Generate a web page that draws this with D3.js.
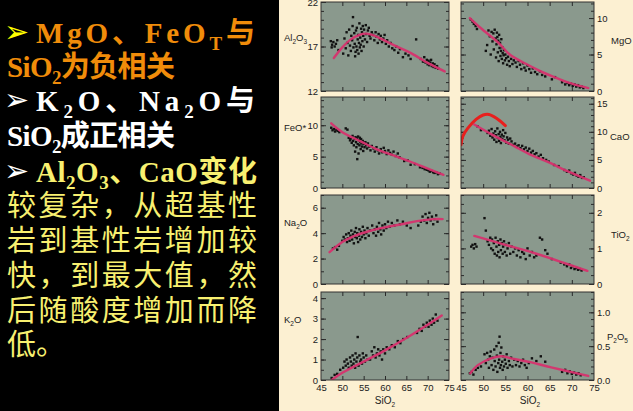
<!DOCTYPE html>
<html><head><meta charset="utf-8">
<script src="https://cdn.jsdelivr.net/npm/d3@7"></script>
<style>html,body{margin:0;padding:0;background:#000;overflow:hidden}</style>
</head><body>
<svg id="c" width="633" height="411"></svg>
<script>
// ---------- text on the left ----------
const slideLines = [
  {arrow: "#ffff00", color: "#f08c0a", text: "MgO、FeO_T与", bold: true},
  {arrow: null, color: "#f08c0a", text: "SiO_2为负相关", bold: true},
  {arrow: "#ffffff", color: "#ffffff", text: "K_2O、Na_2O与", bold: true},
  {arrow: null, color: "#ffffff", text: "SiO_2成正相关", bold: true},
  {arrow: "#ffffff", color: "#f8f070", text: "Al_2O_3、CaO变化", bold: true},
  {arrow: null, color: "#f8f070", text: "较复杂，从超基性", bold: false},
  {arrow: null, color: "#f8f070", text: "岩到基性岩增加较", bold: false},
  {arrow: null, color: "#f8f070", text: "快，到最大值，然", bold: false},
  {arrow: null, color: "#f8f070", text: "后随酸度增加而降", bold: false},
  {arrow: null, color: "#f8f070", text: "低。", bold: false}
];

// ---------- Harker diagram data: [SiO2, oxide] ----------
const sio2Domain = [45, 75];
const sio2Ticks = [45, 50, 55, 60, 65, 70, 75];

const al2o3Points = [[47.3,17.6],[47.6,17.2],[47.9,17.5],[48.2,17.0],[48.5,17.3],[47.5,16.9],[48.8,17.7],[49.1,16.6],
[50.2,16.2],[50.5,17.9],[50.8,16.8],[51.0,18.6],[51.2,17.4],[51.4,16.0],[51.6,18.9],[51.8,17.1],[52.0,16.5],[52.1,18.2],[52.3,17.7],[52.4,19.3],[52.5,20.3],[52.6,16.9],[52.8,18.5],[52.9,17.3],[53.0,15.9],[53.1,16.4],[53.2,18.8],[53.3,17.0],[53.4,19.1],[53.5,16.6],[53.6,17.8],[53.7,18.3],[53.8,16.2],[53.9,17.4],[54.0,19.6],[54.1,16.9],[54.2,18.0],[54.3,17.2],[54.4,19.0],[54.5,16.5],[54.6,18.6],[54.7,17.6],[54.8,19.3],[54.9,18.2],[55.0,17.0],[55.1,18.9],[55.3,17.8],[55.5,19.4],[55.6,18.4],[55.8,17.5],[56.0,18.8],[56.2,19.1],[56.4,18.2],[56.6,17.9],[56.9,18.6],
[57.2,18.3],[57.5,17.7],[57.8,18.6],[58.0,18.1],[58.3,17.4],[58.5,18.4],[58.8,17.8],[59.0,18.2],[59.3,17.5],[59.6,17.9],[59.9,18.3],[60.2,17.3],[60.5,17.7],[60.9,17.0],[61.3,17.4],[61.7,16.8],[62.2,16.6],[62.6,17.0],[63.1,16.3],[63.5,16.7],[64.2,15.8],[64.8,16.2],[65.5,16.0],[66.0,15.6],[67.3,17.8],
[68.4,15.6],[68.9,15.3],[69.2,15.8],[69.5,15.2],[69.8,15.5],[70.0,15.0],[70.2,15.4],[70.4,14.9],[70.6,15.2],[70.8,15.5],[71.0,14.8],[71.2,15.1],[71.4,14.7],[71.6,15.0],[71.9,14.6],[72.2,14.8],[72.5,14.5]];
const al2o3Trend = [[48.0,15.7],[50,16.9],[52,17.8],[54,18.3],[55.4,18.45],[57,18.3],[58.5,18.0],[62.3,17.1],[66.3,16.2],[70.2,15.1],[74,14.2]];

const feoPoints = [[47.4,9.6],[47.7,9.2],[48.0,9.4],[48.3,9.0],[48.6,9.3],[48.9,9.1],[49.3,8.9],[50.8,9.5],[51.2,9.3],
[51.5,8.0],[51.8,7.6],[52.0,7.9],[52.2,7.2],[52.4,8.3],[52.5,7.5],[52.7,6.8],[52.9,7.8],[53.0,5.8],[53.1,8.1],[53.2,7.3],[53.3,6.5],[53.4,7.9],[53.5,4.6],[53.6,7.0],[53.7,8.2],[53.8,5.5],[53.9,7.6],[54.0,6.8],[54.1,8.0],[54.2,7.3],[54.3,6.2],[54.4,7.8],[54.5,7.1],[54.6,6.6],[54.8,7.5],[54.9,5.9],[55.0,7.0],[55.2,6.5],[55.4,7.3],[55.6,6.8],[55.8,6.3],[56.0,7.1],[56.3,6.6],[56.6,6.0],[56.9,6.7],
[57.3,6.3],[57.6,5.8],[58.0,6.5],[58.3,6.0],[58.6,5.5],[59.0,6.2],[59.3,5.7],[59.7,6.4],[60.0,5.9],[60.4,5.4],[60.8,6.0],[61.2,5.6],[61.6,5.3],[62.0,5.8],[62.5,5.1],[63.0,5.5],[63.4,4.9],
[64.5,4.3],[65.3,4.4],[66.0,3.7],[67.0,3.8],[68.2,3.3],[68.8,3.2],[69.3,3.0],[69.8,2.9],[70.2,2.8],[70.5,2.6],[70.9,2.7],[71.3,2.5],[71.6,2.4],[72.0,2.5],[72.4,2.2],[72.8,2.3]];
const feoTrend = [[47.4,10.3],[50,8.9],[54.4,7.4],[58,6.2],[62.3,5.1],[67.8,3.7],[73.7,2.1]];

const na2oPoints = [[47.8,2.8],[48.3,2.9],[48.8,2.7],[49.2,3.0],
[50.0,3.4],[50.3,3.7],[50.6,3.5],[50.9,3.9],[51.1,3.3],[51.3,3.6],[51.5,4.0],[51.7,3.4],[51.9,3.8],[52.1,4.2],[52.3,3.5],[52.5,3.9],[52.7,3.2],[52.9,4.1],[53.0,3.7],[53.2,4.4],[53.4,3.6],[53.5,4.0],[53.7,3.3],[53.9,3.8],[54.0,4.3],[54.2,3.5],[54.4,4.1],[54.6,3.7],[54.8,4.5],[55.0,3.9],[55.2,4.2],[55.4,3.6],[55.6,4.0],[55.9,4.4],[56.2,3.8],[56.5,4.2],
[57.0,4.6],[57.3,4.0],[57.6,4.3],[57.9,3.8],[58.1,4.5],[58.4,4.1],[58.6,4.8],[58.9,4.3],[59.1,3.9],[59.4,4.6],[59.7,4.2],[60.0,4.7],[60.3,4.4],[60.7,4.9],[61.1,4.5],[61.6,4.8],[62.2,4.6],[62.9,5.0],[63.5,4.7],[64.2,4.9],[65.1,4.6],[66.0,4.4],
[67.8,4.6],[68.4,4.9],[68.8,5.3],[69.2,5.0],[69.5,5.5],[69.8,4.8],[70.1,5.2],[70.4,5.6],[70.7,5.0],[71.0,5.3],[71.3,4.7],[71.6,5.1],[72.0,5.4],[72.3,4.9]];
const na2oTrend = [[47,2.5],[50,3.3],[53,3.8],[56.2,4.15],[60,4.45],[63.9,4.7],[67.5,4.95],[71.5,5.1],[73.5,5.1]];

const k2oPoints = [[47.5,0.1],[48.2,0.25],[48.8,0.3],[49.5,0.5],
[50.2,0.6],[50.5,0.9],[50.8,0.7],[51.0,1.0],[51.3,0.8],[51.5,0.6],[51.8,1.1],[52.0,0.9],[52.2,0.7],[52.4,1.2],[52.6,0.8],[52.8,1.0],[53.0,0.6],[53.1,1.3],[53.3,0.9],[53.5,1.1],[53.6,2.1],[53.8,0.7],[54.0,1.2],[54.2,0.9],[54.4,1.0],[54.6,0.8],[54.8,1.3],[55.0,1.1],[55.3,0.9],[55.6,1.2],[55.9,1.0],
[56.5,1.0],[56.9,1.4],[57.2,1.2],[57.5,1.6],[57.8,1.1],[58.1,1.3],[58.4,1.5],[58.7,1.2],[59.0,1.4],[59.3,1.0],[59.6,1.5],[60.0,1.3],[60.4,1.6],[61.0,1.5],[61.6,1.7],[62.3,1.6],[63.0,1.9],[63.6,1.8],[64.3,2.0],[65.2,2.1],
[67.5,2.3],[68.1,2.5],[68.6,2.4],[69.0,2.7],[69.4,2.6],[69.8,2.8],[70.2,2.6],[70.5,2.9],[70.9,2.7],[71.2,3.0],[71.5,2.8],[71.9,3.2],[72.3,2.9]];
const k2oTrend = [[47.5,0.0],[50,0.35],[55,0.9],[60,1.45],[65,2.05],[70,2.7],[73.3,3.15]];

const mgoPoints = [[47.2,9.8],[47.6,9.5],[47.9,9.2],[48.3,8.9],[48.6,8.5],
[50.6,5.5],[50.9,6.3],[51.2,8.3],[51.5,7.5],[51.7,5.0],[51.9,8.1],[52.1,6.8],[52.3,7.9],[52.4,5.7],[52.6,8.4],[52.8,7.2],[52.9,4.6],[53.0,6.4],[53.1,8.0],[53.2,7.4],[53.3,5.3],[53.4,6.9],[53.5,4.1],[53.6,7.7],[53.7,5.9],[53.8,6.6],[53.9,4.8],[54.0,5.5],[54.1,7.1],[54.2,4.4],[54.3,6.0],[54.4,5.2],[54.5,3.8],[54.6,4.9],[54.7,5.6],[54.9,4.2],[55.0,5.0],[55.2,4.5],[55.4,3.6],[55.6,4.7],[55.8,4.1],[56.0,3.4],[56.3,4.4],[56.6,3.7],[56.9,4.2],
[57.3,3.9],[57.6,3.3],[58.0,4.1],[58.3,3.6],[58.6,3.0],[59.0,3.8],[59.3,3.2],[59.6,2.8],[60.0,3.5],[60.4,3.0],[60.8,2.5],[61.2,3.1],[61.7,2.6],[62.2,2.3],[62.8,2.7],[63.3,2.2],[64.0,2.0],[65.5,1.6],[66.2,1.9],
[67.8,1.2],[68.5,0.9],[69.0,1.1],[69.4,0.8],[69.8,1.0],[70.2,0.7],[70.6,0.9],[71.0,0.6],[71.4,0.8],[71.8,0.5],[72.2,0.6],[72.6,0.4]];
const mgoTrend = [[47,10.0],[49.5,8.6],[53.3,6.7],[56,5.0],[59.4,3.8],[63,2.7],[66.9,1.7],[70,1.0],[73.7,0.4]];

const caoPoints = [[48.7,11.0],[49.5,10.3],
[51.0,9.8],[51.3,10.2],[51.6,9.3],[51.9,10.5],[52.1,9.0],[52.3,9.7],[52.5,8.6],[52.7,10.1],[52.9,9.4],[53.0,8.2],[53.2,10.6],[53.3,8.9],[53.5,9.6],[53.6,8.4],[53.8,10.0],[53.9,9.1],[54.0,8.0],[54.2,9.5],[54.3,8.7],[54.5,10.3],[54.6,9.2],[54.8,8.5],[55.0,9.8],[55.2,8.1],[55.4,9.0],[55.6,8.6],[55.8,7.9],[56.1,8.8],[56.4,8.3],[56.7,7.7],
[57.2,7.9],[57.6,7.4],[58.0,7.6],[58.4,7.1],[58.8,7.5],[59.2,6.9],[59.6,7.2],[60.0,6.6],[60.4,7.0],[60.8,6.3],[61.2,6.6],[61.6,6.0],[62.0,6.2],[62.5,5.6],[63.0,5.9],[63.5,5.3],[64.2,5.0],[64.8,4.7],
[66.0,4.1],[67.0,3.9],[68.3,3.2],[68.9,2.9],[69.4,3.1],[69.9,2.6],[70.3,2.4],[70.7,2.7],[71.1,2.2],[71.5,2.0],[71.9,2.3],[72.3,1.8],[72.7,1.9]];
const caoTrend = [[48,11.3],[52,9.5],[57.1,7.4],[60.5,6.0],[64.7,4.6],[69,3.0],[74.1,1.3]];
const caoUltramaficTrend = [[45,7.7],[45.4,9.2],[46.5,10.6],[48.4,12.2],[50.0,13.0],[51.3,13.1],[53.0,12.4],[55.0,11.1]];

const tio2Points = [[47.3,1.05],[47.6,1.1],[47.9,1.0],[48.2,1.12],[48.5,1.05],[50.3,1.85],[50.6,1.5],
[51.0,1.2],[51.3,1.1],[51.6,1.3],[51.8,1.0],[52.0,1.25],[52.2,0.95],[52.4,1.15],[52.6,0.85],[52.8,1.3],[53.0,1.05],[53.1,0.8],[53.3,1.2],[53.4,0.9],[53.6,1.1],[53.7,0.75],[53.9,1.25],[54.0,0.95],[54.2,1.15],[54.4,0.85],[54.5,1.05],[54.7,1.2],[54.9,0.9],[55.1,1.1],[55.3,0.8],[55.5,1.0],[55.8,1.15],[56.1,0.85],[56.4,1.05],[56.8,0.9],
[57.2,1.0],[57.6,0.8],[58.0,0.95],[58.4,0.75],[58.8,0.9],[59.2,0.85],[59.6,0.7],[60.0,1.0],[60.5,0.8],[61.0,0.9],[61.5,0.75],[62.0,0.8],[62.8,1.3],[63.3,1.25],[64.0,0.95],[64.5,0.85],[65.5,0.7],
[67.5,0.6],[68.3,0.55],[68.9,0.5],[69.4,0.55],[69.8,0.45],[70.2,0.5],[70.6,0.42],[71.0,0.45],[71.4,0.4],[71.8,0.42],[72.2,0.38]];
const tio2Trend = [[48,1.35],[55,1.1],[62,0.85],[73.5,0.37]];

const p2o5Points = [[47.0,0.1],[47.4,0.12],[47.8,0.08],[48.3,0.15],[48.8,0.18],[49.5,0.2],
[50.3,0.38],[50.6,0.25],[50.9,0.4],[51.1,0.3],[51.3,0.18],[51.5,0.35],[51.7,0.42],[51.9,0.22],[52.1,0.33],[52.3,0.15],[52.5,0.45],[52.6,0.28],[52.8,0.2],[53.0,0.5],[53.1,0.36],[53.2,0.12],[53.4,0.25],[53.5,0.55],[53.6,0.3],[53.7,0.64],[53.8,0.18],[53.9,0.4],[54.0,0.22],[54.1,0.48],[54.3,0.27],[54.4,0.15],[54.5,0.35],[54.7,0.2],[54.9,0.3],[55.1,0.24],[55.3,0.38],[55.5,0.18],[55.8,0.28],[56.0,0.22],[56.3,0.33],[56.6,0.2],
[57.0,0.3],[57.4,0.22],[57.8,0.28],[58.2,0.2],[58.6,0.25],[59.0,0.3],[59.4,0.22],[59.8,0.18],[60.3,0.25],[61.0,0.32],[62.0,0.28],[63.0,0.35],[64.0,0.27],
[67.8,0.12],[68.5,0.15],[69.0,0.1],[69.5,0.13],[70.0,0.09],[70.5,0.11],[71.0,0.08],[71.5,0.1],[72.0,0.07]];
const p2o5Trend = [[47.1,0.1],[48.8,0.22],[51.8,0.32],[54.1,0.35],[57,0.31],[60.9,0.26],[64.5,0.2],[68.4,0.14],[73.7,0.06]];

const panelLabels = ["Al_2O_3", "FeO*", "Na_2O", "K_2O", "MgO", "CaO", "TiO_2", "P_2O_5"];
const panelDomains = [[12,22],[0,14.5],[0,7],[0,4.3],[0,12.2],[0,16.2],[0,2.5],[0,1.3]];
const panelTicks = [[12,17,22],[0,5,10],[0,2,4,6],[0,1,2,3,4],[0,5,10],[0,5,10,15],[0,1,2],[0,0.5,1.0]];
const panelMinorStep = [1,1,1,0.5,1,1,0.25,0.1];
const panelPoints = [al2o3Points, feoPoints, na2oPoints, k2oPoints, mgoPoints, caoPoints, tio2Points, p2o5Points];
const panelTrends = [al2o3Trend, feoTrend, na2oTrend, k2oTrend, mgoTrend, caoTrend, tio2Trend, p2o5Trend];

// ---------- drawing ----------
const svg = d3.select("#c");
svg.append("rect").attr("x",0).attr("y",0).attr("width",633).attr("height",411).attr("fill","#000");
svg.append("rect").attr("x",279).attr("y",0).attr("width",354).attr("height",411).attr("fill","#fcf0d2");

function rich(sel, str, subDy, subSize) {
  const parts = str.split(/(_[0-9A-Z])/).filter(s => s.length);
  let inSub = false;
  parts.forEach(p => {
    if (p[0] === "_") {
      sel.append("tspan").attr("dy", subDy).attr("font-size", subSize).text(p.slice(1));
      inSub = true;
    } else {
      const t = sel.append("tspan").text(p);
      if (inSub) t.attr("dy", -subDy);
      inSub = false;
    }
  });
}

// slide text
const lineBase = [43, 77, 111, 146, 182, 216, 251, 286, 321, 355];
const lineStart = [36, 7, 36, 7, 36, 7, 7, 7, 7, 7];
const lineWidth = [219, 168, 219, 168, 221, 250, 250, 250, 250, null];
slideLines.forEach((L, i) => {
  if (L.arrow) {
    svg.append("text").attr("x", 4).attr("y", lineBase[i] - 1)
      .attr("font-family", "DejaVu Sans").attr("font-size", 30).attr("font-weight", "bold")
      .attr("fill", L.arrow).text("➢");
  }
  const t = svg.append("text").attr("x", lineStart[i]).attr("y", lineBase[i])
    .attr("font-family", "'Liberation Serif','Noto Sans CJK SC',serif")
    .attr("font-weight", L.bold ? "bold" : "normal")
    .attr("font-size", 29).attr("fill", L.color);
  if (lineWidth[i]) t.attr("textLength", lineWidth[i]).attr("lengthAdjust", "spacing");
  rich(t, L.text, 7, 19);
});

// panels
const colX = [[321, 449], [461, 594]];
const rowY = [[2, 91], [97, 188], [195, 284], [292, 380]];
const panelFill = "#8a998d";
const numFont = "'Liberation Sans',Arial,sans-serif";

panelLabels.forEach((lab, i) => {
  const col = i < 4 ? 0 : 1, row = i % 4;
  const [x0, x1] = colX[col], [y0, y1] = rowY[row];
  const x = d3.scaleLinear().domain(sio2Domain).range([x0, x1]);
  const y = d3.scaleLinear().domain(panelDomains[i]).range([y1, y0]);
  const g = svg.append("g");
  const clipId = "clip" + i;
  svg.append("clipPath").attr("id", clipId).append("rect")
    .attr("x", x0).attr("y", y0).attr("width", x1 - x0).attr("height", y1 - y0);
  g.append("rect").attr("x", x0).attr("y", y0).attr("width", x1 - x0).attr("height", y1 - y0)
    .attr("fill", panelFill);

  const dm = panelDomains[i];
  const minor = d3.range(dm[0], dm[1] + 1e-9, panelMinorStep[i]);
  const tickStyle = a => a.call(s => s.select(".domain").remove())
    .call(s => s.selectAll("line").attr("stroke", "#2a2a2a"))
    .call(s => s.selectAll("text").attr("fill", "#222").attr("font-family", numFont).attr("font-size", 9.5));
  const fmt = i === 7 ? d3.format(".1f") : d3.format("d");

  g.append("g").attr("transform", `translate(${x0},0)`).call(d3.axisLeft(y).tickValues(minor).tickSize(-3).tickFormat("")).call(tickStyle);
  g.append("g").attr("transform", `translate(${x1},0)`).call(d3.axisRight(y).tickValues(minor).tickSize(-3).tickFormat("")).call(tickStyle);
  g.append("g").attr("transform", `translate(${x0},0)`)
    .call(d3.axisLeft(y).tickValues(panelTicks[i]).tickSize(-5).tickPadding(3).tickFormat(col === 0 ? fmt : () => ""))
    .call(tickStyle);
  g.append("g").attr("transform", `translate(${x1},0)`)
    .call(d3.axisRight(y).tickValues(panelTicks[i]).tickSize(-5).tickPadding(3).tickFormat(col === 1 ? fmt : () => ""))
    .call(tickStyle);
  const inner = sio2Ticks.slice(1, -1);
  g.append("g").attr("transform", `translate(0,${y0})`).call(d3.axisTop(x).tickValues(inner).tickSize(-4).tickFormat("")).call(tickStyle);
  g.append("g").attr("transform", `translate(0,${y1})`)
    .call(d3.axisBottom(x).tickValues(row === 3 ? sio2Ticks : inner).tickSize(-4).tickPadding(4).tickFormat(row === 3 ? d3.format("d") : () => ""))
    .call(tickStyle)
    .call(s => s.selectAll("line").filter(d => d === 45 || d === 75).remove());

  const line = d3.line().x(d => x(d[0])).y(d => y(d[1])).curve(d3.curveCatmullRom.alpha(0.5));
  const inside = g.append("g").attr("clip-path", `url(#${clipId})`);
  if (i === 5) {
    inside.append("path").datum(caoUltramaficTrend).attr("d", line).attr("fill", "none")
      .attr("stroke", "#e8201e").attr("stroke-width", 3).attr("stroke-linecap", "round");
  }
  inside.selectAll("rect.pt").data(panelPoints[i]).join("rect").attr("class", "pt")
    .attr("x", d => x(d[0]) - 1.2).attr("y", d => y(d[1]) - 1.2)
    .attr("width", 2.4).attr("height", 2.4).attr("fill", "#111");
  inside.append("path").datum(panelTrends[i]).attr("d", line).attr("fill", "none")
    .attr("stroke", "#d6336e").attr("stroke-width", 2.4).attr("stroke-linecap", "round").attr("opacity", 0.95);

  g.append("rect").attr("x", x0).attr("y", y0).attr("width", x1 - x0).attr("height", y1 - y0)
    .attr("fill", "none").attr("stroke", "#333").attr("stroke-width", 1);
});

// axis titles
const leftTitleY = [41, 131, 226, 323];
const rightTitleX = [611, 610, 611, 607];
const rightTitleY = [44, 140, 238, 340];
panelLabels.forEach((lab, i) => {
  const col = i < 4 ? 0 : 1, row = i % 4;
  const t = svg.append("text").attr("font-family", numFont).attr("font-size", 9.5).attr("fill", "#222");
  if (col === 0) t.attr("x", 284).attr("y", leftTitleY[row]);
  else t.attr("x", rightTitleX[row]).attr("y", rightTitleY[row]);
  rich(t, lab, 2.5, 6.5);
});
[385, 530].forEach(cx => {
  const t = svg.append("text").attr("x", cx).attr("y", 404).attr("text-anchor", "middle")
    .attr("font-family", numFont).attr("font-size", 10).attr("fill", "#222");
  rich(t, "SiO_2", 2.5, 6.5);
});
</script></body></html>
